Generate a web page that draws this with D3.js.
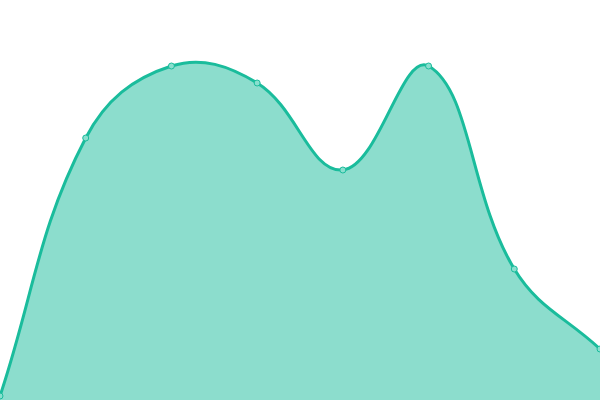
<!DOCTYPE html>
<html>
<head>
<meta charset="utf-8">
<script src="https://cdn.jsdelivr.net/npm/d3@7"></script>
<style>
  html, body { margin: 0; padding: 0; background: #fff; }
  svg { display: block; }
</style>
</head>
<body>
<div id="chart"></div>
<script>
// values
const labels = ['A', 'B', 'C', 'D', 'E', 'F', 'G', 'H']
const values = [4, 262, 334, 317, 230, 334, 131, 51]

const width = 600, height = 400
const tension = 0.4

const x = d3.scalePoint().domain(labels).range([0, width])
const y = d3.scaleLinear().domain([0, 400]).range([height, 0])

const data = labels.map((l, i) => ({ label: l, value: values[i] }))

// bezier spline weighted by point distance (same idea as a chart.js line with tension)
class TensionCurve {
  constructor(context) { this._context = context }
  areaStart() { this._line = 0 }
  areaEnd() { this._line = NaN }
  lineStart() { this._pts = [] }
  point(px, py) { this._pts.push([+px, +py]) }
  lineEnd() {
    const p = this._pts, ctx = this._context, n = p.length
    if (n) {
      if (this._line) ctx.lineTo(p[0][0], p[0][1])
      else ctx.moveTo(p[0][0], p[0][1])
      const cps = p.map((cur, i) => {
        const prev = p[i - 1] || cur, next = p[i + 1] || cur
        const d01 = Math.hypot(cur[0] - prev[0], cur[1] - prev[1])
        const d12 = Math.hypot(next[0] - cur[0], next[1] - cur[1])
        let s01 = d01 / (d01 + d12), s12 = d12 / (d01 + d12)
        if (isNaN(s01)) s01 = 0
        if (isNaN(s12)) s12 = 0
        const fa = tension * s01, fb = tension * s12
        return {
          before: [cur[0] - fa * (next[0] - prev[0]), cur[1] - fa * (next[1] - prev[1])],
          after: [cur[0] + fb * (next[0] - prev[0]), cur[1] + fb * (next[1] - prev[1])]
        }
      })
      for (let i = 1; i < n; i++) {
        const a = cps[i - 1].after, b = cps[i].before
        ctx.bezierCurveTo(a[0], a[1], b[0], b[1], p[i][0], p[i][1])
      }
    }
    if (this._line || (this._line !== 0 && n === 1)) ctx.closePath()
    this._line = 1 - this._line
  }
}
const curve = (context) => new TensionCurve(context)

const svg = d3.select('#chart')
  .append('svg')
  .attr('width', width)
  .attr('height', height)

svg.append('path')
  .datum(data)
  .attr('fill', 'rgba(26, 188, 156, 0.5)')
  .attr('d', d3.area()
    .x(d => x(d.label))
    .y0(y(0))
    .y1(d => y(d.value))
    .curve(curve))

svg.append('path')
  .datum(data)
  .attr('fill', 'none')
  .attr('stroke', '#1abc9c')
  .attr('stroke-width', 3)
  .attr('d', d3.line()
    .x(d => x(d.label))
    .y(d => y(d.value))
    .curve(curve))

svg.append('g')
  .selectAll('circle')
  .data(data)
  .enter()
  .append('circle')
  .attr('cx', d => x(d.label))
  .attr('cy', d => y(d.value))
  .attr('r', 3)
  .attr('fill', 'rgba(137, 223, 206, 1)')
  .attr('stroke', '#1abc9c')
  .attr('stroke-width', 1)
</script>
</body>
</html>
